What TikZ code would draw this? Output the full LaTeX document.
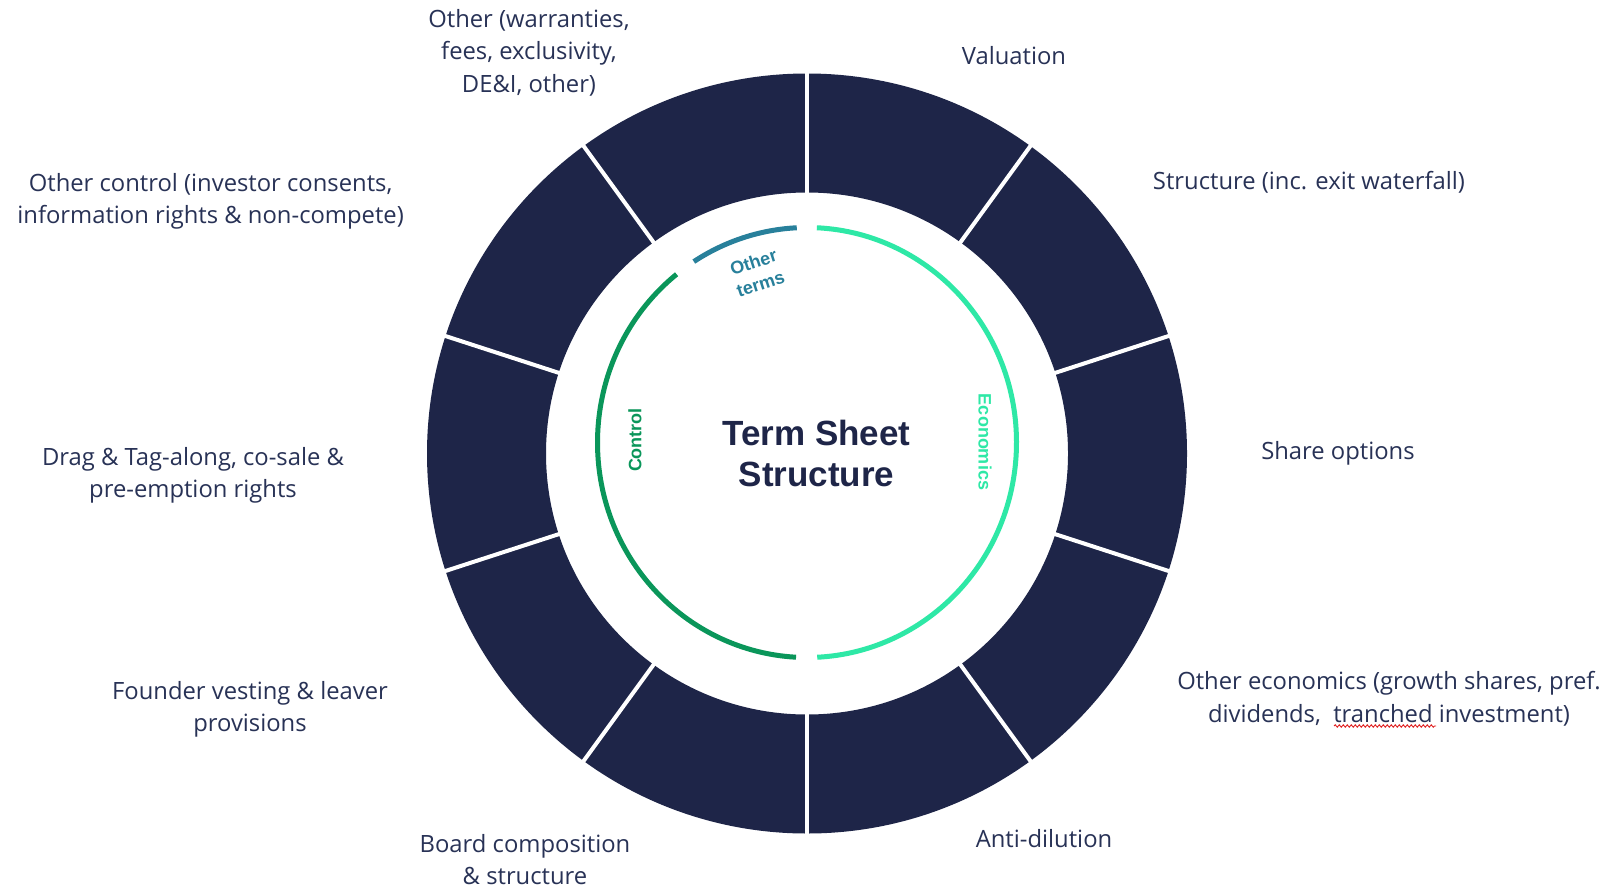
\documentclass[tikz,border=0pt]{standalone}
\usepackage{fontspec}
\setmainfont{Open Sans}
\newfontfamily\headfont{Liberation Sans}
\usetikzlibrary{calc,decorations.pathmorphing}

\definecolor{navy}{HTML}{1E2548}
\definecolor{ink}{HTML}{283256}
\definecolor{econ}{HTML}{2EE8A6}
\definecolor{ctrl}{HTML}{0A965A}
\definecolor{oterm}{HTML}{28809B}
\definecolor{spell}{HTML}{E02020}

\tikzset{
  lbl/.style={text=ink, font=\fontsize{23.8bp}{32.5bp}\selectfont, align=center, inner sep=0pt},
  title/.style={text=navy, font=\headfont\bfseries\fontsize{35bp}{41.5bp}\selectfont, align=center, inner sep=0pt},
  grouplbl/.style={font=\headfont\bfseries\fontsize{18bp}{23bp}\selectfont, align=center, inner sep=0pt},
  grouparc/.style={line width=5bp, line cap=butt},
  divider/.style={white, line width=4bp}
}

\begin{document}
\begin{tikzpicture}[x=1bp, y=-1bp]
\useasboundingbox (0,0) rectangle (1611,887);
\fill[white] (0,0) rectangle (1611,887);

% ring of ten term segments
\coordinate (c) at (807,453.5);
\fill[navy, even odd rule] (c) circle[radius=380bp] (c) circle[radius=261bp];
\foreach \a in {90,54,18,-18,-54,-90,-126,-162,162,126}
  \draw[divider] ($(c)+(\a:255bp)$) -- ($(c)+(\a:386bp)$);

% inner group arcs
\coordinate (g) at (807,442.5);
\draw[grouparc, econ]  ([shift={(87.3:209.5bp and 215bp)}]g)  arc[start angle=87.3,  end angle=-87.2, x radius=209.5bp, y radius=215bp];
\draw[grouparc, ctrl]  ([shift={(128.5:209.5bp and 215bp)}]g) arc[start angle=128.5, end angle=267,   x radius=209.5bp, y radius=215bp];
\draw[grouparc, oterm] ([shift={(122.7:209.5bp and 215bp)}]g) arc[start angle=122.7, end angle=92.8,  x radius=209.5bp, y radius=215bp];

% group names
\node[grouplbl, text=ctrl, rotate=90]  (control) at (635,440) {Control};
\node[grouplbl, text=econ, rotate=-90] (economics) at (985,442) {Economics};
\node[grouplbl, text=oterm, rotate=18] (otherterms) at (757,273) {Other\\terms};

% centre title
\node[title] (ttl) at (816.5,453.5) {Term Sheet\\Structure};

% segment labels
\node[lbl] (other) at (529,52.5) {Other (warranties,\\fees, exclusivity,\\DE\&I, other)};
\node[lbl] (valuation) at (1014,56) {Valuation};
\node[lbl] (structure) at (1309,182) {Structure (inc. exit waterfall)};
\node[lbl] (shares) at (1338,453) {Share options};
\node[lbl] (othecon) at (1389,699) {Other economics (growth shares, pref.\\dividends,\ \ tranched investment)};
\node[lbl] (antidil) at (1044,839) {Anti-dilution};
\node[lbl] (board) at (525,859.5) {Board composition\\\& structure};
\node[lbl] (founder) at (250,709.5) {Founder vesting \& leaver\\provisions};
\node[lbl] (drag) at (193,475.5) {Drag \& Tag-along, co-sale \&\\pre-emption rights};
\node[lbl] (othctl) at (210.6,201.5) {Other control (investor consents,\\information rights \& non-compete)};

% spell-check underline
\draw[spell, line width=0.9bp, decorate, decoration={snake, amplitude=1.2bp, segment length=4bp}] (1334,726) -- (1436,726);
\end{tikzpicture}
\end{document}
